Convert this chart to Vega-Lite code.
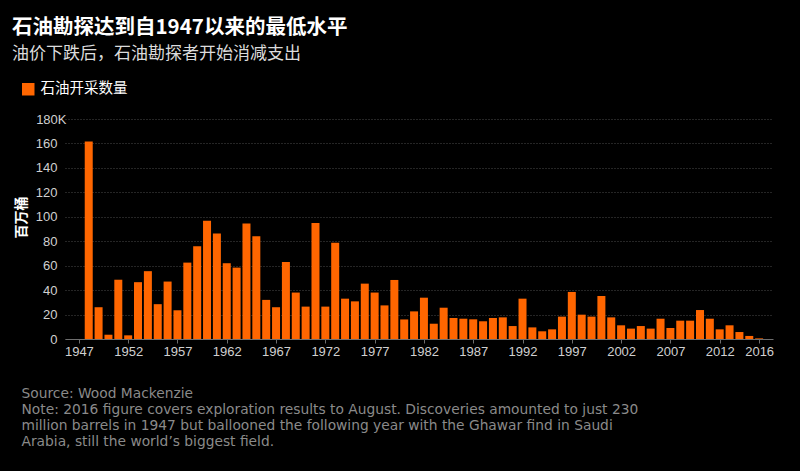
{
  "$schema": "https://vega.github.io/schema/vega-lite/v6.json",
  "autosize": {"type": "none"},
  "width": 708,
  "height": 220,
  "padding": {"left": 65, "top": 119, "right": 27, "bottom": 132},
  "background": "#000000",
  "config": {"view": {"stroke": null}},
  "title": {
    "text": "石油勘探达到自1947以来的最低水平",
    "subtitle": "油价下跌后，石油勘探者开始消减支出",
    "anchor": "start",
    "frame": "group",
    "dx": -53,
    "offset": 20,
    "font": "Noto Sans CJK SC",
    "fontSize": 20.5,
    "fontWeight": "bold",
    "color": "#ffffff",
    "subtitleFont": "Noto Sans CJK SC",
    "subtitleFontSize": 17,
    "subtitleColor": "#dcdcdc",
    "subtitlePadding": 8
  },
  "data": {
    "values": [
      {"year": 1948, "value": 161.5}, {"year": 1949, "value": 26}, {"year": 1950, "value": 3.5},
      {"year": 1951, "value": 48.5}, {"year": 1952, "value": 3}, {"year": 1953, "value": 46.5},
      {"year": 1954, "value": 55.5}, {"year": 1955, "value": 28.5}, {"year": 1956, "value": 47},
      {"year": 1957, "value": 23.5}, {"year": 1958, "value": 62.5}, {"year": 1959, "value": 75.8},
      {"year": 1960, "value": 96.8}, {"year": 1961, "value": 86.4}, {"year": 1962, "value": 62},
      {"year": 1963, "value": 58.4}, {"year": 1964, "value": 94.4}, {"year": 1965, "value": 84},
      {"year": 1966, "value": 32}, {"year": 1967, "value": 26}, {"year": 1968, "value": 63},
      {"year": 1969, "value": 38}, {"year": 1970, "value": 26.5}, {"year": 1971, "value": 95},
      {"year": 1972, "value": 26.5}, {"year": 1973, "value": 78.8}, {"year": 1974, "value": 33},
      {"year": 1975, "value": 30.8}, {"year": 1976, "value": 45.3}, {"year": 1977, "value": 38},
      {"year": 1978, "value": 27.5}, {"year": 1979, "value": 48.3}, {"year": 1980, "value": 16},
      {"year": 1981, "value": 22.6}, {"year": 1982, "value": 33.8}, {"year": 1983, "value": 12.5},
      {"year": 1984, "value": 25.6}, {"year": 1985, "value": 17.2}, {"year": 1986, "value": 16.6},
      {"year": 1987, "value": 16.1}, {"year": 1988, "value": 14.5}, {"year": 1989, "value": 17.2},
      {"year": 1990, "value": 17.7}, {"year": 1991, "value": 10.6}, {"year": 1992, "value": 33},
      {"year": 1993, "value": 9.5}, {"year": 1994, "value": 6.3}, {"year": 1995, "value": 7.9},
      {"year": 1996, "value": 18.3}, {"year": 1997, "value": 38.5}, {"year": 1998, "value": 19.9},
      {"year": 1999, "value": 18.3}, {"year": 2000, "value": 35.2}, {"year": 2001, "value": 17.7},
      {"year": 2002, "value": 11.2}, {"year": 2003, "value": 8.5}, {"year": 2004, "value": 10.6},
      {"year": 2005, "value": 8.5}, {"year": 2006, "value": 16.6}, {"year": 2007, "value": 9},
      {"year": 2008, "value": 15}, {"year": 2009, "value": 15}, {"year": 2010, "value": 23.7},
      {"year": 2011, "value": 16.6}, {"year": 2012, "value": 7.9}, {"year": 2013, "value": 11.2},
      {"year": 2014, "value": 5.7}, {"year": 2015, "value": 2.5}, {"year": 2016, "value": 0.5}
    ]
  },
  "mark": {"type": "bar", "width": 8},
  "encoding": {
    "x": {
      "field": "year",
      "type": "quantitative",
      "scale": {"domain": [1946.1, 2016.9], "nice": false, "zero": false},
      "axis": {
        "values": [1947, 1952, 1957, 1962, 1967, 1972, 1977, 1982, 1987, 1992, 1997, 2002, 2007, 2012, 2016],
        "format": "d",
        "grid": false,
        "domainColor": "#6e6e6e",
        "tickColor": "#6e6e6e",
        "tickSize": 4,
        "labelPadding": 2,
        "labelFont": "Liberation Sans",
        "labelFontSize": 13,
        "labelColor": "#d0d0d0",
        "labelOverlap": false,
        "labelFlush": false,
        "title": [
          "Source: Wood Mackenzie",
          "Note: 2016 figure covers exploration results to August. Discoveries amounted to just 230",
          "million barrels in 1947 but ballooned the following year with the Ghawar find in Saudi",
          "Arabia, still the world’s biggest field."
        ],
        "titleFont": "DejaVu Sans",
        "titleFontSize": 13.8,
        "titleFontWeight": "normal",
        "titleColor": "#8a8a8a",
        "titleAlign": "left",
        "titleAnchor": "start",
        "titleBaseline": "top",
        "titleLineHeight": 16,
        "titleX": -44,
        "titleY": 47
      }
    },
    "y": {
      "field": "value",
      "type": "quantitative",
      "scale": {"domain": [0, 180], "nice": false},
      "axis": {
        "values": [0, 20, 40, 60, 80, 100, 120, 140, 160, 180],
        "labelExpr": "datum.value == 180 ? '180K' : datum.label",
        "domain": false,
        "ticks": false,
        "labelPadding": {"condition": {"test": "datum.value == 180", "value": -1}, "value": 8},
        "labelFont": "Liberation Sans",
        "labelFontSize": 13,
        "labelColor": "#d0d0d0",
        "gridColor": "#4a4a4a",
        "gridDash": [1, 2],
        "gridWidth": 1,
        "title": "百万桶",
        "titleFont": "Noto Sans CJK SC",
        "titleFontSize": 14,
        "titleFontWeight": "bold",
        "titleColor": "#ffffff",
        "titleAngle": -90,
        "titleAlign": "center",
        "titleBaseline": "middle",
        "titleX": -44,
        "titleY": 98
      }
    },
    "color": {
      "datum": "石油开采数量",
      "type": "nominal",
      "scale": {"range": ["#ff6600"]},
      "legend": {
        "orient": "none",
        "legendX": -44,
        "legendY": -37,
        "title": null,
        "padding": 0,
        "symbolType": "square",
        "symbolSize": 156,
        "symbolStrokeWidth": 0,
        "symbolOpacity": 1,
        "labelFont": "Noto Sans CJK SC",
        "labelFontSize": 14.5,
        "labelColor": "#ffffff",
        "labelOffset": 5
      }
    }
  }
}
